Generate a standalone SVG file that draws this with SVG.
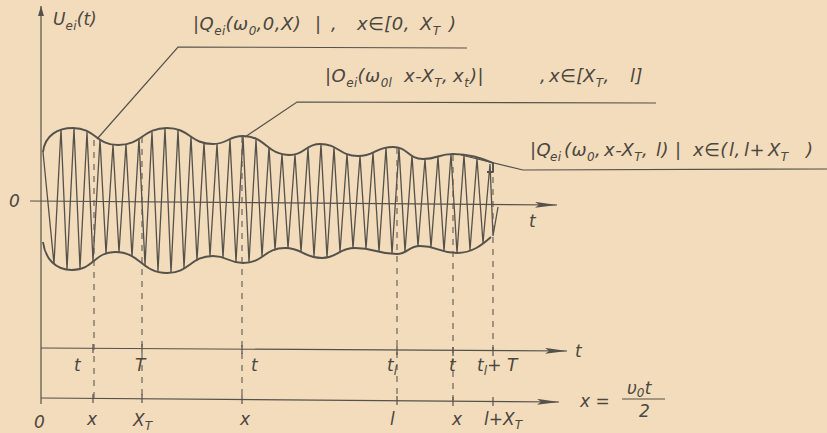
<svg xmlns="http://www.w3.org/2000/svg" width="827" height="433" viewBox="0 0 827 433">
<defs>
<marker id="arr" markerUnits="userSpaceOnUse" markerWidth="24" markerHeight="8" refX="22" refY="3" orient="auto">
<path d="M0,0 L22,3 L0,6 L4,3 z" fill="#55514b"/>
</marker>
<marker id="arrs" markerUnits="userSpaceOnUse" markerWidth="12" markerHeight="8" refX="10" refY="3" orient="auto">
<path d="M0,0 L10,3 L0,6 z" fill="#55514b"/>
</marker>
</defs>
<style>
.ln{fill:none;stroke:#55514b;stroke-width:1.2}
.env{fill:none;stroke:#55514b;stroke-width:1.9;stroke-linejoin:round}
.car{fill:none;stroke:#55514b;stroke-width:1.3;stroke-linejoin:miter}
.dash{fill:none;stroke:#5e5a53;stroke-width:1.1;stroke-dasharray:6 6}
.t{font-family:"DejaVu Sans","Liberation Sans",sans-serif;font-style:italic;font-size:17px;fill:#4b4640}
.lb{font-family:"DejaVu Sans","Liberation Sans",sans-serif;font-style:italic;font-size:18px;fill:#4b4640;letter-spacing:0.5px}
.s{font-size:12px;letter-spacing:0.3px}
</style>
<rect width="827" height="433" fill="#f2dcbb"/>

<g id="axes">
<path class="ln" d="M41,404 L41,6" marker-end="url(#arrs)"/>
<path class="ln" d="M30,201 L557,205" marker-end="url(#arr)"/>
<path class="ln" d="M41,348 L567,351" marker-end="url(#arr)"/>
<path class="ln" d="M41,398 L559,402" marker-end="url(#arr)"/>
<path class="ln" d="M93,344 V353 M142,344 V353 M242,345 V354 M397,346 V355 M453,347 V356 M493,347 V356 M93,394 V403 M142,394 V403 M242,395 V404 M397,396 V405 M453,397 V406 M493,397 V406"/>
</g>

<g id="signal">
<path class="car" d="M43,152 L54,264 L61,129 L67,269.5 L74,128 L80,268.5 L87,132 L93,261.4 L100,139 L106,253.8 L113,144.5 L119,252.3 L126,144 L132,257 L139,138.4 L145,265 L152,131.7 L158,271.5 L165,128.1 L171,272.7 L178,130 L184,267.9 L191,136.5 L197,260.6 L204,142.5 L210,256.2 L217,143.7 L223,257.8 L230,139.2 L236,262.1 L243,136 L249,262.3 L256,139.4 L262,256.7 L269,147 L275,250.1 L282,153.7 L288,248.2 L295,154.3 L301,251.9 L308,147.8 L314,256.8 L321,144 L327,257.5 L334,147.6 L340,252.2 L347,153.6 L353,248.1 L360,156 L366,249 L373,152.5 L379,251.7 L386,147.9 L392,253.8 L399,148.1 L405,251.8 L412,155.4 L418,246.2 L425,159 L431,247.5 L438,156.5 L444,251.1 L451,154 L457,253 L464,155 L470,250 L477,158.5 L483,243 L490,164 L493,236 L498,207"/>
<path class="env" d="M43,152 C45,135 58,128 73,128 C95,128 96,145 118,145 C142,145 143,128 167,128 C190,128 190,144 213,144 C228,144 228,136 243,136 C266,136 266,155 290,155 C305,155 305,144 320,144 C339,144 339,156 358,156 C375,156 375,147 393,147 C408,147 408,159 423,159 C438,159 438,154 453,154 C470,154 480,158 493,163 L493,172 L487,172"/>
<path class="env" d="M43,242 C45,258 55,270 72,270 C94,270 94,252 115,252 C141,252 141,273 167,273 C190,273 190,256 213,256 C228,256 228,263 243,263 C264,263 264,248 285,248 C303,248 303,258 322,258 C338,258 338,248 355,248 C376,248 376,254 397,254 C408,254 408,246 420,246 C438,246 438,253 457,253 C472,253 482,245 491,237"/>
</g>

<g id="dashes">
<path class="dash" d="M94,140 V398 M142,137 V398 M242,137 V398 M397,148 V400 M453,155 V400 M493,165 V351"/>
</g>

<g id="connectors">
<path class="ln" d="M467,48 L178,47 L97,139"/>
<path class="ln" d="M656,103 L297,102 L245,137"/>
<path class="ln" d="M827,169 L523,170 L461,155"/>
</g>

<g id="label1">
<text class="lb" y="30"><tspan x="193">|Q</tspan><tspan class="s" dy="5">ei</tspan><tspan dy="-5">(ω</tspan><tspan class="s" dy="5">0</tspan><tspan dy="-5">,0,X)</tspan><tspan x="315">|</tspan><tspan x="331">,</tspan><tspan x="357">x∈[0,</tspan><tspan x="420">X</tspan><tspan class="s" dy="5">T</tspan><tspan x="449" dy="-5">)</tspan></text>
</g>
<g id="label2">
<text class="lb" y="82"><tspan x="325">|O</tspan><tspan class="s" dy="5">ei</tspan><tspan dy="-5">(ω</tspan><tspan class="s" dy="5">0l</tspan><tspan x="404" dy="-5">x-X</tspan><tspan class="s" dy="5">T</tspan><tspan dy="-5">,</tspan><tspan x="453">x</tspan><tspan class="s" dy="5">t</tspan><tspan x="470" dy="-5">)|</tspan><tspan x="540">,</tspan><tspan x="549">x∈[</tspan><tspan x="583">X</tspan><tspan class="s" dy="5">T</tspan><tspan dy="-5">,</tspan><tspan x="630">l]</tspan></text>
</g>
<g id="label3">
<text class="lb" y="156"><tspan x="530">|Q</tspan><tspan class="s" x="550" dy="5">ei</tspan><tspan x="564" dy="-5">(ω</tspan><tspan class="s" dy="5">0</tspan><tspan dy="-5">,</tspan><tspan x="604">x-X</tspan><tspan class="s" dy="5">T</tspan><tspan dy="-5">,</tspan><tspan x="656">l)</tspan><tspan x="675">|</tspan><tspan x="693">x∈(</tspan><tspan x="729">l,</tspan><tspan x="744">l+</tspan><tspan x="768">X</tspan><tspan class="s" dy="5">T</tspan><tspan x="806" dy="-5">)</tspan></text>
</g>

<g id="axis-labels">
<text class="t" y="25" font-size="18"><tspan x="53">U</tspan><tspan class="s" dy="5">ei</tspan><tspan dy="-5">(t)</tspan></text>
<text class="t" x="9" y="207">0</text>
<text class="t" x="529" y="227">t</text>
<text class="t" x="575" y="357">t</text>
<text class="t" y="371"><tspan x="74">t</tspan><tspan x="135">T</tspan><tspan x="251">t</tspan><tspan x="387">t</tspan><tspan class="s" dy="4">l</tspan><tspan x="449" dy="-4">t</tspan><tspan x="477">t</tspan><tspan class="s" dy="4">l</tspan><tspan dy="-4">+ T</tspan></text>
<text class="t" y="426"><tspan x="34" dy="2">0</tspan><tspan x="87" dy="-3">x</tspan><tspan x="133" dy="1">X</tspan><tspan class="s" dy="4">T</tspan><tspan x="240" dy="-5">x</tspan><tspan x="390">l</tspan><tspan x="452">x</tspan><tspan x="484">l+X</tspan><tspan class="s" dy="4">T</tspan></text>
<text class="t" x="580" y="407">x  =</text>
<text class="t" x="627" y="394">υ<tspan class="s" dy="3">0</tspan><tspan dy="-3">t</tspan></text>
<path class="ln" d="M622,399 H665"/>
<text class="t" x="639" y="417">2</text>
</g>
</svg>
